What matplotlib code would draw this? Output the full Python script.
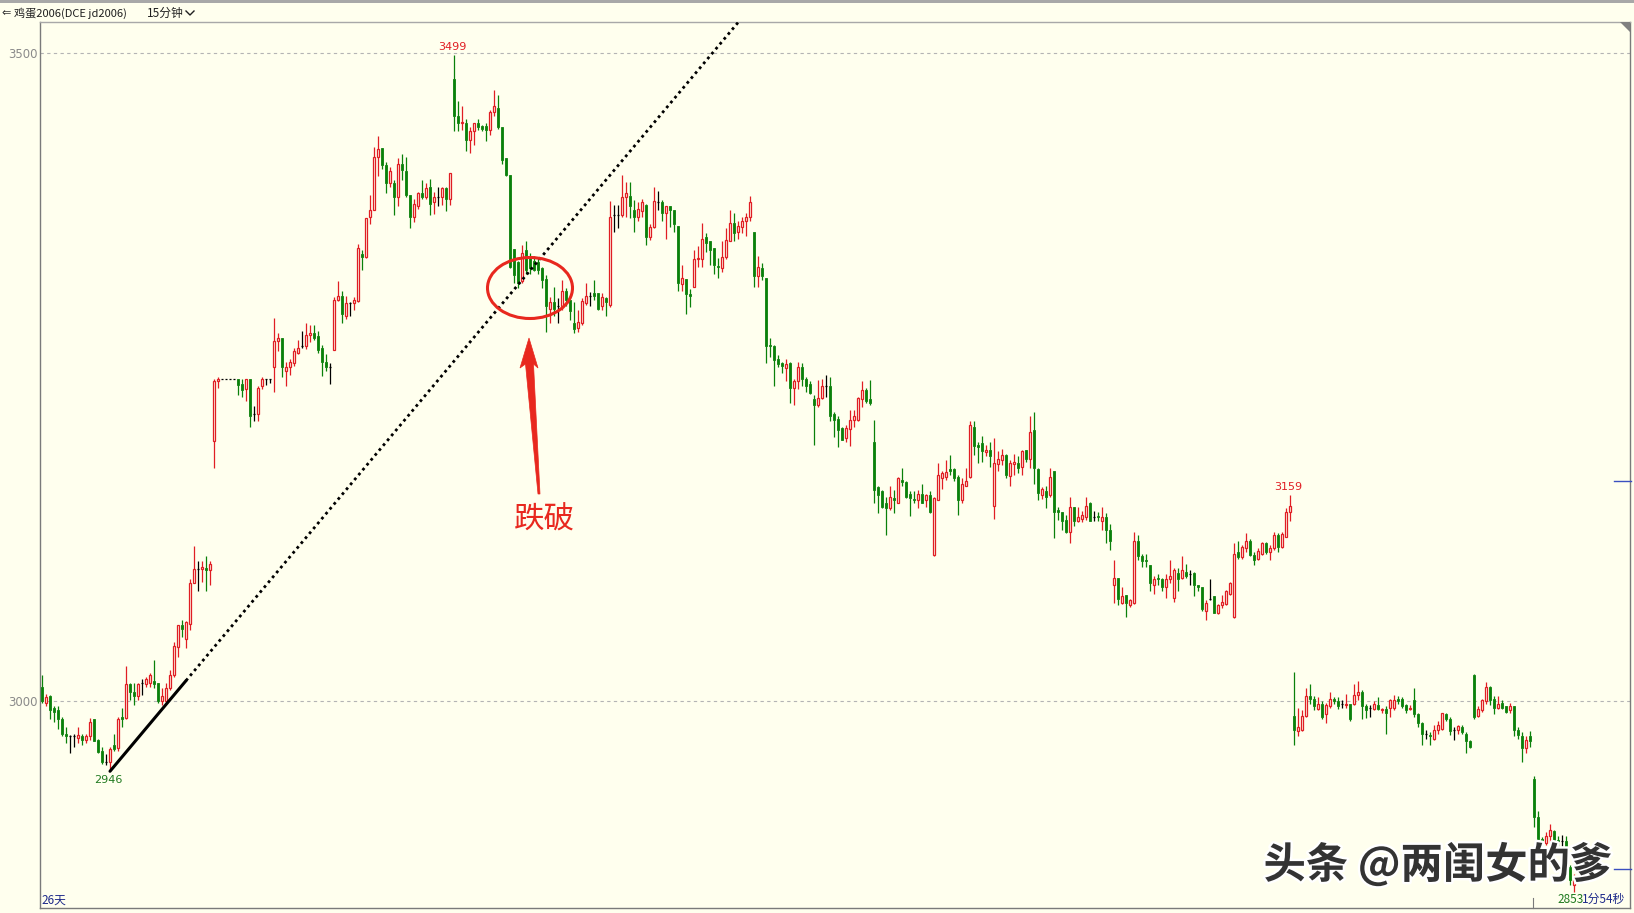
import matplotlib
matplotlib.use('Agg')
import matplotlib.pyplot as plt
from matplotlib.patches import Rectangle, Ellipse, Polygon
from matplotlib.collections import LineCollection
from matplotlib.lines import Line2D
import matplotlib.patheffects as pe
import numpy as np

# ---------------- data (15-minute candles, 鸡蛋2006) ----------------
opens = [
 3011, 2999, 3004, 2995, 2993, 2986, 2975, 2973, 2973, 2972,
 2973, 2970, 2973, 2986, 2970, 2962, 2953, 2953, 2966, 2964,
 2988, 2987, 3013, 3007, 3004, 3014, 3013, 3014, 3016, 3014,
 3000, 3000, 3010, 3020, 3042, 3059, 3048, 3060, 3091, 3102,
 3102, 3103, 3101, 3201, 3247, 3249, 3249, 3249, 3249, 3249,
 3245, 3241, 3249, 3222, 3222, 3243, 3249, 3249, 3258, 3278,
 3280, 3255, 3258, 3261, 3269, 3274, 3274, 3283, 3284, 3282,
 3273, 3262, 3258, 3271, 3310, 3313, 3297, 3307, 3307, 3309,
 3345, 3343, 3374, 3379, 3420, 3427, 3414, 3400, 3400, 3389,
 3415, 3409, 3391, 3374, 3382, 3392, 3389, 3397, 3385, 3389,
 3389, 3396, 3388, 3480, 3452, 3446, 3446, 3433, 3440, 3446,
 3444, 3444, 3441, 3455, 3458, 3443, 3419, 3406, 3349, 3339,
 3324, 3348, 3342, 3340, 3339, 3334, 3326, 3303, 3308, 3305,
 3305, 3317, 3310, 3292, 3288, 3292, 3307, 3313, 3315, 3315,
 3305, 3311, 3306, 3375, 3375, 3375, 3389, 3390, 3379, 3374,
 3378, 3383, 3358, 3366, 3385, 3385, 3377, 3382, 3379, 3367,
 3322, 3326, 3314, 3320, 3341, 3341, 3358, 3355, 3350, 3336,
 3334, 3343, 3355, 3369, 3362, 3366, 3371, 3374, 3362, 3328,
 3334, 3327, 3275, 3274, 3264, 3261, 3257, 3261, 3242, 3247,
 3258, 3249, 3245, 3233, 3229, 3234, 3243, 3243, 3222, 3218,
 3211, 3203, 3210, 3217, 3217, 3233, 3240, 3233, 3200, 3165,
 3162, 3153, 3149, 3157, 3153, 3171, 3169, 3160, 3156, 3155,
 3160, 3155, 3159, 3113, 3155, 3172, 3173, 3179, 3179, 3173,
 3155, 3166, 3173, 3212, 3198, 3199, 3192, 3194, 3151, 3183,
 3186, 3190, 3174, 3183, 3184, 3181, 3194, 3187, 3209, 3179,
 3159, 3162, 3159, 3178, 3148, 3146, 3140, 3131, 3150, 3139,
 3141, 3142, 3153, 3142, 3143, 3139, 3142, 3132, 3090, 3095,
 3076, 3082, 3074, 3076, 3124, 3112, 3109, 3105, 3090, 3095,
 3094, 3088, 3094, 3080, 3099, 3095, 3100, 3098, 3099, 3090,
 3088, 3070, 3079, 3081, 3068, 3074, 3075, 3083, 3065, 3115,
 3111, 3118, 3124, 3113, 3110, 3114, 3122, 3115, 3118, 3128,
 3119, 3127, 3146, 2989, 2977, 2978, 2989, 3004, 3002, 2994,
 2998, 2990, 2996, 3002, 3000, 2998, 2997, 2998, 2998, 3005,
 3007, 2996, 2995, 2994, 2997, 2993, 2994, 2995, 2995, 3002,
 3002, 2997, 2994, 3001, 2990, 2983, 2975, 2974, 2971, 2978,
 2979, 2990, 2986, 2978, 2978, 2980, 2975, 2969, 3020, 2989,
 2993, 3000, 3011, 3002, 2995, 2999, 2996, 2993, 2996, 2978,
 2973, 2964, 2973, 2940, 2911, 2894, 2891, 2896, 2900, 2893,
 2892, 2892, 2872, 2858,
]
highs = [
 3020, 3006, 3005, 2996, 2996, 2988, 2980, 2974, 2975, 2980,
 2975, 2975, 2987, 2986, 2971, 2965, 2959, 2965, 2975, 2988,
 2995, 3027, 3014, 3014, 3014, 3017, 3019, 3022, 3032, 3014,
 3010, 3014, 3024, 3046, 3059, 3063, 3062, 3094, 3120, 3108,
 3108, 3112, 3108, 3249, 3250, 3249, 3249, 3249, 3249, 3249,
 3249, 3249, 3249, 3228, 3243, 3250, 3249, 3249, 3296, 3284,
 3280, 3262, 3264, 3273, 3279, 3286, 3292, 3290, 3290, 3286,
 3275, 3268, 3261, 3312, 3324, 3317, 3313, 3308, 3312, 3353,
 3348, 3373, 3391, 3428, 3436, 3427, 3416, 3412, 3402, 3419,
 3422, 3420, 3391, 3388, 3393, 3402, 3400, 3403, 3393, 3397,
 3397, 3397, 3408, 3499, 3463, 3459, 3449, 3443, 3446, 3449,
 3445, 3446, 3456, 3472, 3468, 3443, 3419, 3406, 3349, 3340,
 3352, 3355, 3346, 3344, 3342, 3335, 3329, 3312, 3320, 3311,
 3325, 3319, 3310, 3308, 3302, 3311, 3323, 3316, 3325, 3315,
 3315, 3312, 3386, 3383, 3383, 3406, 3401, 3401, 3387, 3385,
 3388, 3384, 3368, 3397, 3394, 3387, 3382, 3382, 3379, 3367,
 3337, 3326, 3318, 3348, 3351, 3369, 3361, 3355, 3350, 3342,
 3355, 3365, 3379, 3377, 3371, 3374, 3377, 3390, 3362, 3344,
 3338, 3327, 3280, 3275, 3267, 3262, 3264, 3262, 3249, 3262,
 3261, 3250, 3247, 3236, 3248, 3249, 3252, 3250, 3223, 3220,
 3212, 3213, 3225, 3225, 3235, 3247, 3242, 3248, 3217, 3166,
 3163, 3158, 3166, 3163, 3173, 3180, 3170, 3162, 3162, 3163,
 3168, 3160, 3162, 3158, 3184, 3178, 3186, 3190, 3180, 3175,
 3172, 3180, 3216, 3216, 3200, 3205, 3198, 3200, 3203, 3193,
 3195, 3191, 3186, 3191, 3189, 3194, 3194, 3220, 3223, 3180,
 3165, 3166, 3180, 3178, 3150, 3146, 3144, 3158, 3150, 3150,
 3147, 3158, 3154, 3147, 3146, 3150, 3145, 3137, 3109, 3095,
 3088, 3082, 3079, 3131, 3128, 3114, 3114, 3105, 3097, 3098,
 3095, 3098, 3109, 3103, 3103, 3112, 3106, 3101, 3100, 3090,
 3088, 3078, 3094, 3081, 3075, 3082, 3086, 3092, 3122, 3124,
 3121, 3130, 3125, 3115, 3118, 3123, 3123, 3121, 3131, 3130,
 3131, 3149, 3159, 3023, 2995, 2993, 3010, 3013, 3004, 3003,
 3000, 2999, 3007, 3003, 3003, 3001, 3006, 2998, 3013, 3016,
 3009, 2998, 2997, 3000, 3003, 2995, 2996, 3002, 3005, 3004,
 3003, 2998, 2997, 3010, 2991, 2984, 2978, 2976, 2982, 2985,
 2991, 2991, 2988, 2980, 2982, 2982, 2976, 2970, 3021, 2996,
 3002, 3015, 3012, 3004, 3004, 3001, 2996, 2999, 2996, 2980,
 2976, 2973, 2977, 2942, 2915, 2895, 2899, 2905, 2901, 2896,
 2897, 2896, 2874, 2867,
]
lows = [
 2999, 2996, 2986, 2984, 2979, 2973, 2968, 2960, 2965, 2968,
 2966, 2968, 2970, 2969, 2960, 2952, 2951, 2946, 2962, 2962,
 2980, 2986, 3001, 2997, 3001, 3005, 3011, 3011, 3010, 2999,
 2997, 2998, 3009, 3019, 3034, 3050, 3041, 3055, 3091, 3085,
 3092, 3085, 3090, 3180, 3242, 3249, 3249, 3249, 3249, 3236,
 3235, 3232, 3212, 3216, 3216, 3241, 3244, 3246, 3239, 3270,
 3250, 3243, 3252, 3259, 3268, 3273, 3272, 3277, 3279, 3269,
 3251, 3255, 3245, 3271, 3309, 3292, 3295, 3297, 3302, 3308,
 3333, 3342, 3368, 3379, 3405, 3411, 3392, 3397, 3375, 3382,
 3402, 3389, 3365, 3370, 3380, 3388, 3388, 3375, 3376, 3382,
 3383, 3378, 3383, 3440, 3440, 3441, 3425, 3423, 3429, 3441,
 3440, 3432, 3437, 3452, 3442, 3415, 3405, 3334, 3323, 3319,
 3323, 3330, 3330, 3332, 3330, 3319, 3285, 3292, 3297, 3292,
 3302, 3305, 3294, 3284, 3285, 3290, 3306, 3305, 3310, 3302,
 3302, 3297, 3304, 3362, 3365, 3374, 3374, 3373, 3362, 3371,
 3374, 3352, 3356, 3365, 3379, 3371, 3357, 3366, 3362, 3317,
 3317, 3299, 3304, 3320, 3335, 3335, 3347, 3337, 3330, 3327,
 3331, 3341, 3355, 3355, 3357, 3361, 3359, 3371, 3320, 3320,
 3325, 3261, 3266, 3243, 3258, 3253, 3247, 3230, 3229, 3241,
 3243, 3239, 3237, 3198, 3227, 3233, 3235, 3216, 3204, 3196,
 3202, 3200, 3197, 3212, 3216, 3227, 3230, 3229, 3153, 3145,
 3149, 3128, 3148, 3145, 3153, 3166, 3157, 3143, 3153, 3149,
 3153, 3150, 3145, 3112, 3155, 3164, 3171, 3175, 3170, 3144,
 3153, 3166, 3172, 3190, 3184, 3185, 3189, 3181, 3141, 3178,
 3182, 3172, 3166, 3175, 3176, 3175, 3185, 3180, 3168, 3155,
 3156, 3149, 3158, 3126, 3140, 3132, 3130, 3122, 3135, 3138,
 3138, 3140, 3139, 3139, 3139, 3132, 3122, 3117, 3076, 3074,
 3075, 3065, 3073, 3075, 3109, 3104, 3104, 3085, 3083, 3090,
 3085, 3080, 3091, 3077, 3085, 3094, 3095, 3090, 3081, 3085,
 3070, 3063, 3078, 3068, 3067, 3072, 3074, 3082, 3064, 3110,
 3110, 3115, 3112, 3105, 3109, 3113, 3114, 3109, 3117, 3115,
 3118, 3127, 3139, 2966, 2973, 2977, 2988, 2998, 2993, 2993,
 2986, 2983, 2995, 2998, 2994, 2995, 2995, 2985, 2997, 3001,
 2986, 2987, 2988, 2993, 2993, 2991, 2975, 2988, 2993, 2998,
 2995, 2991, 2993, 2988, 2980, 2966, 2971, 2966, 2970, 2975,
 2978, 2985, 2974, 2970, 2975, 2975, 2960, 2964, 2986, 2988,
 2992, 2998, 2997, 2990, 2994, 2994, 2991, 2991, 2973, 2971,
 2953, 2960, 2965, 2903, 2883, 2880, 2889, 2891, 2888, 2888,
 2888, 2863, 2858, 2853,
]
closes = [
 3000, 3003, 2993, 2992, 2986, 2975, 2973, 2973, 2973, 2974,
 2970, 2973, 2984, 2969, 2961, 2953, 2953, 2963, 2963, 2986,
 2986, 3013, 3007, 3004, 3013, 3014, 3017, 3020, 3013, 3000,
 3004, 3010, 3020, 3043, 3059, 3056, 3061, 3091, 3102, 3102,
 3104, 3101, 3106, 3247, 3249, 3249, 3249, 3249, 3249, 3244,
 3240, 3249, 3220, 3222, 3242, 3249, 3249, 3249, 3278, 3280,
 3258, 3258, 3262, 3270, 3273, 3274, 3283, 3284, 3280, 3271,
 3262, 3258, 3258, 3310, 3313, 3299, 3307, 3307, 3310, 3350,
 3343, 3373, 3379, 3420, 3426, 3414, 3400, 3409, 3389, 3415,
 3410, 3391, 3374, 3384, 3392, 3389, 3396, 3384, 3389, 3389,
 3396, 3388, 3408, 3452, 3446, 3447, 3433, 3440, 3446, 3443,
 3442, 3441, 3455, 3459, 3443, 3418, 3406, 3335, 3329, 3323,
 3346, 3333, 3334, 3333, 3333, 3325, 3305, 3308, 3303, 3305,
 3317, 3310, 3301, 3287, 3293, 3309, 3313, 3313, 3313, 3303,
 3312, 3308, 3374, 3375, 3375, 3389, 3392, 3382, 3374, 3380,
 3385, 3358, 3366, 3386, 3385, 3377, 3382, 3379, 3368, 3323,
 3327, 3314, 3313, 3341, 3342, 3357, 3354, 3348, 3337, 3335,
 3343, 3356, 3369, 3361, 3367, 3371, 3374, 3385, 3328, 3335,
 3328, 3274, 3274, 3263, 3260, 3259, 3260, 3242, 3247, 3258,
 3249, 3243, 3238, 3229, 3234, 3243, 3243, 3220, 3217, 3209,
 3202, 3211, 3217, 3220, 3234, 3240, 3232, 3230, 3163, 3159,
 3150, 3149, 3158, 3155, 3172, 3169, 3158, 3157, 3155, 3160,
 3153, 3159, 3146, 3157, 3175, 3176, 3177, 3178, 3172, 3155,
 3168, 3170, 3213, 3197, 3196, 3193, 3194, 3189, 3184, 3187,
 3190, 3175, 3184, 3185, 3180, 3193, 3187, 3208, 3180, 3161,
 3164, 3158, 3173, 3146, 3146, 3139, 3131, 3150, 3139, 3142,
 3144, 3151, 3139, 3142, 3142, 3142, 3132, 3124, 3095, 3079,
 3081, 3076, 3078, 3124, 3112, 3108, 3108, 3091, 3094, 3094,
 3088, 3094, 3097, 3101, 3094, 3101, 3097, 3098, 3090, 3088,
 3071, 3076, 3079, 3068, 3074, 3077, 3085, 3091, 3114, 3111,
 3119, 3124, 3113, 3109, 3116, 3122, 3115, 3118, 3128, 3119,
 3129, 3146, 3151, 2978, 2980, 2989, 3004, 3002, 2996, 2998,
 2988, 2997, 3002, 3000, 2996, 2998, 2998, 2986, 3005, 3007,
 2996, 2993, 2995, 2998, 2994, 2994, 2991, 3001, 3001, 3000,
 2996, 2993, 2995, 2990, 2983, 2975, 2975, 2973, 2978, 2982,
 2991, 2986, 2977, 2978, 2981, 2976, 2969, 2965, 2988, 2994,
 3001, 3011, 3001, 2995, 2998, 2995, 2992, 2996, 2978, 2974,
 2964, 2970, 2969, 2911, 2894, 2890, 2896, 2901, 2893, 2892,
 2892, 2872, 2862, 2863,
]

price_ticks = [3000, 3500]
price_tick_labels = ['3000', '3500']

# labelled extremes: (candle index, price, text)
peak_label = (103, 3499, '3499')
trough_label = (17, 2946, '2946')
rebound_label = (312, 3159, '3159')

# trend line anchored at the 2946 low
trend_start = (17, 2946)
trend_slope = 3.68          # price per candle
trend_solid_end = 36

title_text = '鸡蛋2006(DCE jd2006)'
period_text = '15分钟'
annot_text = '跌破'
watermark_text = '头条 @两闺女的爹'
days_text = '26天'
last_price_text = '2853'
timer_text = '1分54秒'

# ---------------- styling ----------------
BG = '#FFFFEE'
RED = '#E01E24'
GREEN = '#0A800A'
ANN_RED = '#E8281E'
CJK = ['Noto Sans CJK SC', 'DejaVu Sans']

W, H = 1634, 913
fig = plt.figure(figsize=(W / 100, H / 100), dpi=100, facecolor=BG)


def fx(px):
    return px / W


def fy(py):
    return 1 - py / H


ax = fig.add_axes([fx(40), fy(908), (1630 - 40) / W, (908 - 22) / H])
ax.set_facecolor(BG)
ax.set_xlim(-0.5, 397)
ax.set_ylim(2840.5, 3524.2)

n = min(len(opens), len(highs), len(lows), len(closes))
BW = 0.36

wick_segs = {RED: [], GREEN: [], 'black': []}
for i in range(n):
    o, h, l, c = opens[i], highs[i], lows[i], closes[i]
    col = RED if c > o else (GREEN if c < o else 'black')
    top, bot = max(o, c), min(o, c)
    if h > top:
        wick_segs[col].append([(i, top), (i, h)])
    if l < bot:
        wick_segs[col].append([(i, l), (i, bot)])
    if c > o:
        ax.add_patch(Rectangle((i - BW, o), 2 * BW, c - o, facecolor=BG,
                               edgecolor=RED, linewidth=0.9, zorder=3))
    elif c < o:
        ax.add_patch(Rectangle((i - BW, c), 2 * BW, o - c, facecolor=GREEN,
                               edgecolor=GREEN, linewidth=0.6, zorder=3))
    else:
        ax.plot([i - BW, i + BW], [c, c], color='black', lw=0.9, zorder=3,
                solid_capstyle='butt')

for col, segs in wick_segs.items():
    ax.add_collection(LineCollection(segs, colors=col, linewidths=0.9, zorder=2))

# grid lines
for p in price_ticks:
    ax.axhline(p, color='#B4B4B4', lw=0.8, ls=(0, (3, 3)), zorder=1)

ax.set_xticks([])
ax.set_yticks(price_ticks)
ax.set_yticklabels(price_tick_labels, color='#8A8A8A', fontsize=8.5)
ax.tick_params(axis='y', length=0, pad=2)
for side in ['left', 'right', 'bottom']:
    ax.spines[side].set_color('#7A7A7A')
    ax.spines[side].set_linewidth(1.0)
ax.spines['top'].set_color('#A8A8A8')
ax.spines['top'].set_linewidth(1.0)

# trend line (solid part then dotted extension)
x0, y0 = trend_start
xs = np.array([x0, trend_solid_end])
ax.plot(xs, y0 + trend_slope * (xs - x0), color='black', lw=2.2,
        solid_capstyle='round', zorder=5)
xd = np.array([trend_solid_end, 200])
ax.plot(xd, y0 + trend_slope * (xd - x0), color='black', lw=2.0,
        ls=(0, (1, 1.3)), zorder=5)

# extreme labels
ax.text(peak_label[0] - 0.5, peak_label[1] + 6, peak_label[2], color=RED,
        fontsize=8, ha='center', va='center', zorder=6)
ax.text(trough_label[0] - 0.3, trough_label[1] - 7, trough_label[2], color='#207A20',
        fontsize=8, ha='center', va='center', zorder=6)
ax.text(rebound_label[0] - 0.5, rebound_label[1] + 6.5, rebound_label[2], color=RED,
        fontsize=8, ha='center', va='center', zorder=6)

# ---------------- figure-level decorations ----------------
fig.patches.append(Rectangle((0, fy(3)), 1, 3 / H, transform=fig.transFigure,
                             facecolor='#A8A8A8', edgecolor='none'))
fig.text(fx(1), fy(13), '⇐', fontsize=8, color='#303030', va='center', ha='left',
         family=['DejaVu Sans'])
fig.text(fx(14), fy(13), title_text, fontsize=8, color='#202020', va='center',
         ha='left', family=CJK)
fig.text(fx(147), fy(13), period_text, fontsize=8.5, color='#202020', va='center',
         ha='left', family=CJK)
fig.lines.append(Line2D([fx(186), fx(190), fx(194)], [fy(11), fy(15), fy(11)],
                        transform=fig.transFigure, color='#202020', lw=1.0))

# bottom texts
fig.text(fx(41), fy(900), days_text, fontsize=8.5, color='#1E2A8A', va='center',
         ha='left', family=CJK)
fig.text(fx(1584), fy(899), last_price_text, fontsize=8.5, color='#207A20', va='center',
         ha='right', family=CJK, zorder=6)
fig.text(fx(1582), fy(899), timer_text, fontsize=8.5, color='#1E2A8A', va='center',
         ha='left', family=CJK, zorder=6)

# small markers on the borders
fig.lines.append(Line2D([fx(1533), fx(1533)], [fy(898), fy(908)],
                        transform=fig.transFigure, color='#7A7A7A', lw=0.8))
for yy in [481, 869]:
    fig.lines.append(Line2D([fx(1614), fx(1631)], [fy(yy), fy(yy)],
                            transform=fig.transFigure, color='#3A4FC0', lw=1.0))
fig.patches.append(Polygon([[fx(1620), fy(22)], [fx(1630), fy(22)], [fx(1630), fy(32)]],
                           closed=True, transform=fig.transFigure,
                           facecolor='#808080', edgecolor='none'))

# red ellipse around the break
fig.patches.append(Ellipse((fx(530), fy(288)), 85 / W, 61 / H, transform=fig.transFigure,
                           fill=False, edgecolor=ANN_RED, lw=2.2, zorder=7))

# red arrow pointing up to the ellipse
arrow_px = [(529, 338), (538, 368), (533.5, 364), (540, 494), (538, 494),
            (525.5, 364), (520, 368)]
fig.patches.append(Polygon([[fx(a), fy(b)] for a, b in arrow_px], closed=True,
                           transform=fig.transFigure, facecolor=ANN_RED,
                           edgecolor=ANN_RED, lw=0.5, zorder=7))

fig.text(fx(544), fy(520), annot_text, fontsize=22, color=ANN_RED, ha='center',
         va='center', family=CJK, zorder=7)

# watermark
fig.text(fx(1438), fy(865), watermark_text, fontsize=30.5, color='#333333',
         ha='center', va='center', family=CJK, fontweight='bold', zorder=8,
         path_effects=[pe.withStroke(linewidth=3.5, foreground='white')])

fig.savefig('out.png', dpi=100, facecolor=BG)
